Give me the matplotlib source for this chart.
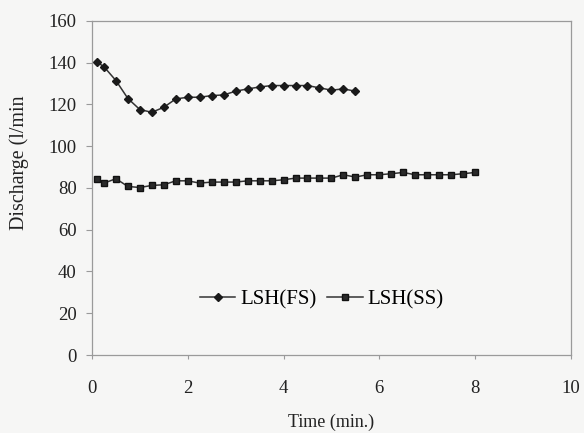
import matplotlib
matplotlib.use("Agg")
import matplotlib.pyplot as plt

# Discharge measurements (l/min) against time (min.)
time_fs = [0.1, 0.25, 0.5, 0.75, 1.0, 1.25, 1.5, 1.75, 2.0, 2.25, 2.5, 2.75,
           3.0, 3.25, 3.5, 3.75, 4.0, 4.25, 4.5, 4.75, 5.0, 5.25, 5.5]
discharge_fs = [140.3, 138.0, 131.4, 122.8, 117.5, 116.2, 118.6, 122.6, 123.4,
                123.4, 124.2, 124.5, 126.3, 127.4, 128.3, 129.0, 129.0, 129.0,
                129.0, 127.9, 126.8, 127.4, 126.3]

time_ss = [0.1, 0.25, 0.5, 0.75, 1.0, 1.25, 1.5, 1.75, 2.0, 2.25, 2.5, 2.75,
           3.0, 3.25, 3.5, 3.75, 4.0, 4.25, 4.5, 4.75, 5.0, 5.25, 5.5, 5.75,
           6.0, 6.25, 6.5, 6.75, 7.0, 7.25, 7.5, 7.75, 8.0]
discharge_ss = [84.4, 82.3, 84.4, 80.7, 80.2, 81.2, 81.5, 83.4, 83.4, 82.3,
                82.8, 82.8, 82.8, 83.4, 83.4, 83.4, 83.9, 84.7, 84.7, 84.7,
                84.7, 86.3, 85.2, 86.3, 86.3, 86.8, 87.4, 86.3, 86.3, 86.3,
                86.3, 86.8, 87.4]

x_ticks = [0, 2, 4, 6, 8, 10]
y_ticks = [0, 20, 40, 60, 80, 100, 120, 140, 160]

plt.rcParams["font.family"] = ["Liberation Serif", "DejaVu Serif"]

bg = "#f6f6f5"
fig = plt.figure(figsize=(5.84, 4.33), dpi=100, facecolor=bg)
ax = fig.add_axes([0.1575, 0.180, 0.820, 0.772], facecolor=bg)

line_col = "#333333"
ax.plot(time_fs, discharge_fs, color=line_col, lw=1.1, marker="D",
        markersize=4.0, markerfacecolor="#1a1a1a", markeredgecolor="#1a1a1a",
        label="LSH(FS)")
ax.plot(time_ss, discharge_ss, color=line_col, lw=1.1, marker="s",
        markersize=4.8, markerfacecolor="#2a2a2a", markeredgecolor="#111111",
        label="LSH(SS)")

ax.set_xlim(0, 10)
ax.set_ylim(0, 160)
ax.set_xticks(x_ticks)
ax.set_yticks(y_ticks)

for side in ["left", "bottom", "top", "right"]:
    ax.spines[side].set_color("#9a9a9a")
    ax.spines[side].set_linewidth(0.9)

ax.tick_params(axis="y", direction="out", length=4, width=0.8,
               color="#9a9a9a", labelsize=13.5, pad=7, labelcolor="#222222")
ax.tick_params(axis="x", direction="out", length=3, width=0.8,
               color="#9a9a9a", labelsize=13.5, pad=15, labelcolor="#222222")

ax.set_ylabel("Discharge (l/min", fontsize=14.4, color="#222222")
ax.yaxis.set_label_coords(-0.131, 0.575)
ax.set_xlabel("Time (min.)", fontsize=13, color="#222222", labelpad=12)

ax.legend(loc="center", bbox_to_anchor=(0.48, 0.165), ncol=2, frameon=False,
          fontsize=15, handlelength=1.7, handletextpad=0.25,
          columnspacing=0.5, borderpad=0.2, markerscale=0.9)

fig.savefig("out.png", dpi=100, facecolor=bg)
